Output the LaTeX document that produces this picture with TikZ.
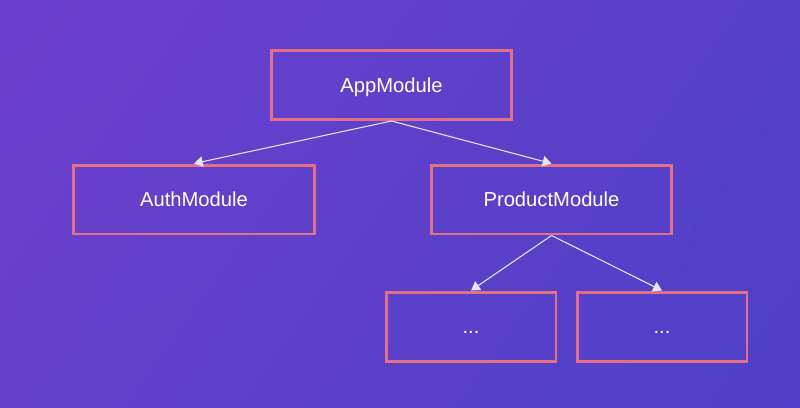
\documentclass[tikz,border=0pt]{standalone}
\usepackage{fontspec}
\setmainfont{Liberation Sans}
\usetikzlibrary{arrows.meta,shadings}

\definecolor{bgtl}{RGB}{108,64,206}
\definecolor{bgtr}{RGB}{86,64,200}
\definecolor{bgbl}{RGB}{100,64,202}
\definecolor{bgbr}{RGB}{78,64,200}
\definecolor{boxline}{RGB}{228,112,132}

\tikzset{
	modbox/.style={draw=boxline, line width=1.7pt, minimum width=4.82cm, minimum height=1.38cm, text=white, text height=8.2pt, text depth=0pt, font=\fontsize{11.5}{14}\selectfont},
	subbox/.style={modbox, minimum width=3.4cm},
	link/.style={draw=white!90!blue, line width=0.6pt, -{Triangle[length=5pt, width=6pt]}}
}

\begin{document}
\begin{tikzpicture}[x=0.02cm, y=-0.02cm]
	% background
	\shade[upper left=bgtl, upper right=bgtr, lower left=bgbl, lower right=bgbr] (0,0) rectangle (800,407);
	\useasboundingbox (0,0) rectangle (800,407);

	\node[modbox] (app) at (391.5,85) {AppModule};
	\node[modbox] (auth) at (194,199.5) {AuthModule};
	\node[modbox] (product) at (551.5,199.5) {ProductModule};
	\node[subbox] (subA) at (471,326.5) {...};
	\node[subbox] (subB) at (662,326.5) {...};

	\draw[link] (app.south) -- (auth.north);
	\draw[link] (app.south) -- (product.north);
	\draw[link] (product.south) -- (subA.north);
	\draw[link] (product.south) -- (subB.north);
\end{tikzpicture}
\end{document}
